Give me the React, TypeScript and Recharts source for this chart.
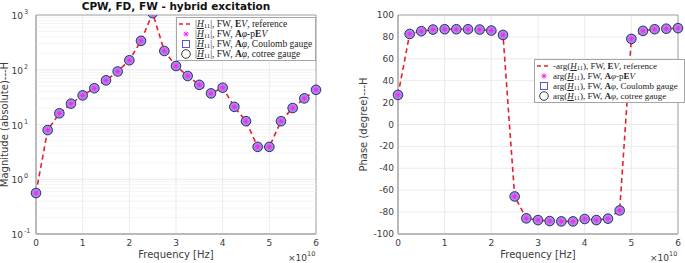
import React from "react";
import { LineChart, Line, XAxis, YAxis, CartesianGrid, ReferenceLine, ReferenceArea } from "recharts";

// frequency in units of 1e10 Hz
const freqE10 = [0, 0.25, 0.5, 0.75, 1, 1.25, 1.5, 1.75, 2, 2.25, 2.5, 2.75, 3, 3.25, 3.5, 3.75, 4, 4.25, 4.5, 4.75, 5, 5.25, 5.5, 5.75, 6];
const magnitude = [0.56, 7.9, 16, 24, 34, 46, 64, 93, 149, 337, 1080, 220, 117, 77, 53, 37, 47, 21, 11.5, 3.9, 3.9, 11.5, 20, 30, 43];
const phaseDeg = [27, 82.7, 85.2, 86.7, 87, 87, 87, 86.7, 85.8, 81.8, -65.7, -85.7, -87.3, -88.2, -88.5, -88.5, -86.3, -87.3, -86, -78.5, 78.2, 85.5, 87, 87.5, 88];

const freqTicks = [0, 1, 2, 3, 4, 5, 6];
const magTicks = [0.1, 1, 10, 100, 1000];
const magMinor = [0.2, 0.3, 0.4, 0.5, 0.6, 0.7, 0.8, 0.9, 2, 3, 4, 5, 6, 7, 8, 9, 20, 30, 40, 50, 60, 70, 80, 90, 200, 300, 400, 500, 600, 700, 800, 900];
const phaseTicks = [-100, -80, -60, -40, -20, 0, 20, 40, 60, 80, 100];

const magData = freqE10.map((f, i) => ({ f, v: magnitude[i] }));
const phaseData = freqE10.map((f, i) => ({ f, v: phaseDeg[i] }));

const FONT = "'DejaVu Sans', sans-serif";
const SERIF = "'Liberation Serif', 'DejaVu Serif', serif";
const RED = "#e8202a";
const AXIS = "#a6a6a6";
const GRID = "#e6e6e6";
const TXT = "#3c3c3c";

function XTick({ x, y, payload }: any) {
  return (
    <text x={x} y={y} dy={8} textAnchor="middle" fontSize={9} fill={TXT} fontFamily={FONT}>
      {payload.value}
    </text>
  );
}

function NumTick({ x, y, payload }: any) {
  return (
    <text x={x} y={y} dy={3} textAnchor="end" fontSize={9} fill={TXT} fontFamily={FONT}>
      {payload.value}
    </text>
  );
}

function LogTick({ x, y, payload }: any) {
  const exp = Math.round(Math.log10(payload.value));
  return (
    <g fontFamily={FONT} fill={TXT}>
      <text x={x - 9} y={y} dy={4} textAnchor="end" fontSize={9}>10</text>
      <text x={x - 8} y={y} dy={-1} textAnchor="start" fontSize={6.5}>{exp}</text>
    </g>
  );
}

function XTitle({ viewBox }: any) {
  const { x, y, width } = viewBox;
  return (
    <g fontFamily={FONT} fill={TXT}>
      <text x={x + width / 2} y={y + 24} textAnchor="middle" fontSize={10}>Frequency [Hz]</text>
      <text x={x + width - 9} y={y + 27} textAnchor="end" fontSize={9}>{"\u00d710"}</text>
      <text x={x + width - 9} y={y + 22} textAnchor="start" fontSize={6.5}>10</text>
    </g>
  );
}

function YTitle({ viewBox, text, dx }: any) {
  const { x, y, height } = viewBox;
  const cx = x + dx;
  const cy = y + height / 2;
  return (
    <text x={cx} y={cy} transform={`rotate(-90 ${cx} ${cy})`} textAnchor="middle" fontSize={10} fill={TXT} fontFamily={FONT}>
      {text}
    </text>
  );
}

function CircleMark({ cx, cy }: any) {
  if (cx == null || cy == null) return null;
  return <circle cx={cx} cy={cy} r={4.8} fill="#a68ae8" stroke="#2e2e66" strokeWidth={1} />;
}

function SquareMark({ cx, cy }: any) {
  if (cx == null || cy == null) return null;
  return <rect x={cx - 3.3} y={cy - 3.3} width={6.6} height={6.6} fill="none" stroke="#4444dd" strokeWidth={0.9} />;
}

function StarMark({ cx, cy }: any) {
  if (cx == null || cy == null) return null;
  const s = 2.6;
  return (
    <g stroke="#ff22ee" strokeWidth={1}>
      <line x1={cx - s} y1={cy} x2={cx + s} y2={cy} />
      <line x1={cx} y1={cy - s} x2={cx} y2={cy + s} />
      <line x1={cx - s * 0.7} y1={cy - s * 0.7} x2={cx + s * 0.7} y2={cy + s * 0.7} />
      <line x1={cx - s * 0.7} y1={cy + s * 0.7} x2={cx + s * 0.7} y2={cy - s * 0.7} />
    </g>
  );
}

function Series() {
  return [
    <Line key="ref" dataKey="v" stroke={RED} strokeWidth={1.6} strokeDasharray="5 3.5" dot={false} isAnimationActive={false} />,
    <Line key="sq" dataKey="v" stroke="none" dot={<SquareMark />} isAnimationActive={false} />,
    <Line key="ci" dataKey="v" stroke="none" dot={<CircleMark />} isAnimationActive={false} />,
    <Line key="st" dataKey="v" stroke="none" dot={<StarMark />} isAnimationActive={false} />,
  ];
}

const H11 = (
  <>
    <span style={{ fontStyle: "italic", textDecoration: "underline" }}>H</span>
    <span style={{ fontSize: "0.7em", position: "relative", top: "0.25em" }}>11</span>
  </>
);
const A = <b>A</b>;
const PHI = <i>{"\u03c6"}</i>;
const EV = (
  <>
    <b>E</b>
    <i>V</i>
  </>
);

function Icon({ kind }: { kind: string }) {
  return (
    <svg width={14} height={10} style={{ flex: "none" }}>
      {kind === "line" && <line x1={0} y1={5} x2={13} y2={5} stroke={RED} strokeWidth={1.6} strokeDasharray="4 3" />}
      {kind === "star" && <StarMark cx={7} cy={5} />}
      {kind === "sq" && <rect x={3.5} y={1.5} width={7} height={7} fill="none" stroke="#4444dd" strokeWidth={0.9} />}
      {kind === "ci" && <circle cx={7} cy={5} r={4.3} fill="none" stroke="#222" strokeWidth={0.9} />}
    </svg>
  );
}

function LegendBox({ style, rows, fontSize }: { style: React.CSSProperties; rows: [string, React.ReactNode][]; fontSize: number }) {
  return (
    <div
      style={{
        position: "absolute",
        background: "rgba(255,255,255,0.95)",
        border: `1px solid ${AXIS}`,
        fontFamily: SERIF,
        fontSize,
        lineHeight: "10px",
        color: "#222",
        padding: "1px 2px",
        whiteSpace: "nowrap",
        boxSizing: "border-box",
        ...style,
      }}
    >
      {rows.map(([kind, label], i) => (
        <div key={i} style={{ display: "flex", alignItems: "center", height: 10, gap: 2 }}>
          <Icon kind={kind} />
          <span>{label}</span>
        </div>
      ))}
    </div>
  );
}

export default function App() {
  return (
    <div style={{ position: "absolute", left: 0, top: 0, width: 685, height: 263, background: "#fff", overflow: "hidden" }}>
      <div style={{ position: "absolute", left: 0, top: 0, width: 340, height: 263 }}>
        <div
          style={{
            position: "absolute",
            left: 36,
            width: 280,
            top: 0,
            textAlign: "center",
            fontFamily: FONT,
            fontWeight: "bold",
            fontSize: 10.5,
            lineHeight: "13px",
            color: "#111",
          }}
        >
          CPW, FD, FW - hybrid excitation
        </div>
        <LineChart width={340} height={263} data={magData} margin={{ top: 15, right: 24, bottom: 0, left: 0 }}>
          <CartesianGrid stroke={GRID} strokeWidth={0.8} />
          {magMinor.map(v => (
            <ReferenceLine key={v} y={v} stroke="#f1f1f1" strokeWidth={0.8} />
          ))}
          <XAxis
            dataKey="f"
            type="number"
            domain={[0, 6]}
            ticks={freqTicks}
            interval={0}
            height={29}
            tick={<XTick />}
            tickLine={false}
            tickSize={2}
            axisLine={{ stroke: AXIS }}
            label={<XTitle />}
          />
          <YAxis
            scale="log"
            domain={[0.1, 1000]}
            ticks={magTicks}
            interval={0}
            allowDataOverflow
            width={36}
            tick={<LogTick />}
            tickLine={false}
            tickSize={2}
            axisLine={{ stroke: AXIS }}
            label={<YTitle text="Magnitude (absolute)---H" dx={8} />}
          />
          <ReferenceArea x1={0} x2={6} y1={0.1} y2={1000} fill="none" stroke={AXIS} strokeWidth={1} />
          {Series()}
        </LineChart>
        <LegendBox
          fontSize={9.5}
          style={{ left: 176, top: 17, width: 140 }}
          rows={[
            ["line", <>|{H11}|, FW, {EV}, reference</>],
            ["star", <>|{H11}|, FW, {A}{PHI}-p{EV}</>],
            ["sq", <>|{H11}|, FW, {A}{PHI}, Coulomb gauge</>],
            ["ci", <>|{H11}|, FW, {A}{PHI}, cotree gauge</>],
          ]}
        />
      </div>
      <div style={{ position: "absolute", left: 340, top: 0, width: 345, height: 263 }}>
        <LineChart width={345} height={263} data={phaseData} margin={{ top: 15, right: 7, bottom: 0, left: 0 }}>
          <CartesianGrid stroke={GRID} strokeWidth={0.8} />
          <XAxis
            dataKey="f"
            type="number"
            domain={[0, 6]}
            ticks={freqTicks}
            interval={0}
            height={29}
            tick={<XTick />}
            tickLine={false}
            tickSize={2}
            axisLine={{ stroke: AXIS }}
            label={<XTitle />}
          />
          <YAxis
            type="number"
            domain={[-100, 100]}
            ticks={phaseTicks}
            interval={0}
            width={58}
            tick={<NumTick />}
            tickLine={false}
            tickSize={2}
            axisLine={{ stroke: AXIS }}
            label={<YTitle text="Phase (degree)---H" dx={27} />}
          />
          <ReferenceArea x1={0} x2={6} y1={-100} y2={100} fill="none" stroke={AXIS} strokeWidth={1} />
          {Series()}
        </LineChart>
        <LegendBox
          fontSize={9}
          style={{ left: 194, top: 59, width: 151 }}
          rows={[
            ["line", <>-arg({H11}), FW, {EV}, reference</>],
            ["star", <>arg({H11}), FW, {A}{PHI}-p{EV}</>],
            ["sq", <>arg({H11}), FW, {A}{PHI}, Coulomb gauge</>],
            ["ci", <>arg({H11}), FW, {A}{PHI}, cotree gauge</>],
          ]}
        />
      </div>
    </div>
  );
}
